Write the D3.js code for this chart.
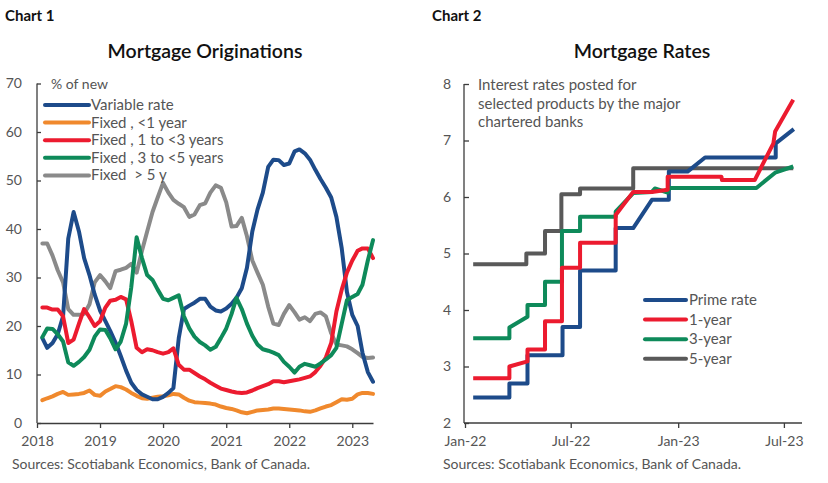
<!DOCTYPE html>
<html><head><meta charset="utf-8">
<script src="https://cdn.jsdelivr.net/npm/d3@7"></script>
<style>
body{margin:0;background:#fff;}
svg text{font-family:Lato,"Noto Sans",sans-serif;white-space:pre;}
</style>
</head><body><svg id="c" width="828" height="483"></svg>
<script>
// ---------- Chart 1 data: monthly, Feb 2018 .. May 2023 ----------
const firstMonth1 = "2018-02-01", lastMonth1 = "2023-05-01";
const variableRate = [17.5,15.5,16.5,18.3,22,38,43.5,39.5,34,30.5,26.5,23.2,21,19,16.6,13.8,10.8,8.3,6.8,5.9,5.4,4.9,4.9,5.4,6.2,7.2,17.5,23.5,24.2,24.8,25.6,25.6,24,23.2,23,23.6,24.6,25.8,27.8,32,39.5,44,47.5,52.8,54.3,54.2,53.2,53.5,56,56.4,55.6,54.3,52.2,50.3,48.5,46.5,42.5,36,27,22.3,20,14.5,10.5,8.5];
const fixedLt1 = [4.7,5.1,5.5,6.0,6.4,5.8,5.9,6.0,6.2,6.7,5.8,5.6,6.5,7.0,7.6,7.4,6.9,6.2,5.6,5.1,5.0,5.2,5.4,5.5,5.7,6.0,5.9,5.2,4.6,4.3,4.2,4.1,4.0,3.8,3.4,3.1,2.9,2.6,2.2,2.0,2.3,2.6,2.7,2.8,3.0,3.0,2.9,2.8,2.7,2.6,2.4,2.3,2.6,3.0,3.4,3.7,4.3,4.9,4.8,5.0,5.9,6.2,6.2,6.0];
const fixed1to3 = [23.8,23.8,23.4,23.4,22.0,16.5,17.2,20.5,23.5,21.8,20.0,21.0,23.8,25.2,25.4,26.0,25.5,21.0,15.5,14.6,15.2,15.0,14.6,14.3,14.6,15.4,12,11.0,11.0,10.3,9.6,9.0,8.3,7.7,7.1,6.8,6.5,6.3,6.2,6.3,6.7,7.2,7.6,8.0,8.6,8.6,8.4,8.6,8.8,9.0,9.3,9.6,10.5,11.8,13.5,16.5,23,27.5,31,33.5,35.5,36,36,34];
const fixed3to5 = [17.7,19.5,19.4,18.3,16.8,12.5,11.8,12.6,13.6,15.1,17.8,19.3,19.2,17.5,15.2,16.8,20.5,28,38.3,34,30.5,29.5,27.5,25.6,25.3,25.8,26.3,22,19.5,17.8,16.7,16.0,15.1,15.7,17.5,19.5,22.5,25.8,23.5,20.5,18,16.2,15.2,14.9,14.5,14,12.6,11.6,10.4,11.6,12.2,11.9,11.6,12.3,13.1,14,15.5,20.5,25.3,26.0,26.6,28.5,33.5,37.7];
const fixedGt5 = [37,37,34.5,31.5,29,23.5,22.3,22.3,22.5,24.5,29,30.5,29.2,27.8,31.3,31.6,32,32.8,31,35.5,39.5,43.5,46.5,49.5,47.5,46,45.2,44.5,42.5,43,44.9,45.3,47.5,49,48.5,45.5,40.5,40.6,42.3,38.5,33.5,31,28.5,24,20.5,20.2,22.5,24.3,22.8,21.3,21.8,21,22.5,22.8,22,18.5,16.2,16,15.8,15.2,14.4,13.6,13.4,13.5];
const series1Names = ["Variable rate","Fixed , <1 year","Fixed , 1 to <3 years","Fixed , 3 to <5 years","Fixed  > 5 y"];
const series1Colors = ["#1d4b8a","#f0892d","#ec1b2f","#0e8a5a","#8a8a8a"];
const yTicks1 = [0,10,20,30,40,50,60,70];
const xTickYears1 = ["2018","2019","2020","2021","2022","2023"];

// ---------- Chart 2 data: posted rates (change points) ----------
const primeRate = [["2022-01-15",2.45],["2022-03-18",2.45],["2022-03-18",2.70],["2022-04-18",2.70],["2022-04-18",3.20],["2022-06-17",3.20],["2022-06-17",3.70],["2022-07-17",3.70],["2022-07-17",4.70],["2022-09-16",4.70],["2022-09-16",5.45],["2022-10-16",5.45],["2022-11-17",5.95],["2022-12-16",5.95],["2022-12-16",6.45],["2023-01-17",6.45],["2023-02-16",6.70],["2023-06-17",6.70],["2023-06-17",6.95],["2023-07-18",7.20]];
const oneYear = [["2022-01-15",2.79],["2022-03-18",2.79],["2022-03-18",3.00],["2022-04-18",3.09],["2022-04-18",3.30],["2022-05-18",3.30],["2022-05-18",3.80],["2022-06-16",3.80],["2022-06-16",4.75],["2022-07-17",4.75],["2022-07-17",5.19],["2022-09-16",5.19],["2022-09-16",5.68],["2022-10-16",6.09],["2022-11-17",6.09],["2022-12-14",6.13],["2022-12-14",6.36],["2023-03-16",6.36],["2023-03-17",6.30],["2023-05-12",6.30],["2023-06-13",6.95],["2023-06-16",7.16],["2023-07-17",7.72]];
const threeYear = [["2022-01-15",3.50],["2022-03-18",3.50],["2022-03-18",3.69],["2022-04-18",3.88],["2022-04-18",4.09],["2022-05-18",4.09],["2022-05-18",4.50],["2022-06-16",4.50],["2022-06-16",5.40],["2022-07-17",5.40],["2022-07-17",5.65],["2022-09-16",5.65],["2022-09-16",5.74],["2022-10-16",6.07],["2022-11-17",6.09],["2022-11-22",6.15],["2022-12-14",6.08],["2022-12-17",6.16],["2023-05-15",6.16],["2023-06-16",6.43],["2023-07-17",6.54]];
const fiveYear = [["2022-01-15",4.81],["2022-04-16",4.81],["2022-04-16",5.00],["2022-05-18",5.00],["2022-05-18",5.40],["2022-06-15",5.40],["2022-06-15",6.05],["2022-07-17",6.05],["2022-07-17",6.15],["2022-10-16",6.15],["2022-10-16",6.51],["2023-07-17",6.51]];
const series2Names = ["Prime rate","1-year","3-year","5-year"];
const series2Colors = ["#1d4b8a","#ec1b2f","#0e8a5a","#595959"];
const yTicks2 = [2,3,4,5,6,7,8];
const xTicks2 = ["2022-01-01","2022-07-01","2023-01-01","2023-07-01"];

// ---------- Drawing ----------
const svg = d3.select("#c");
svg.append("rect").attr("width",828).attr("height",483).attr("fill","#fff");
const parse = d3.timeParse("%Y-%m-%d");
const axisColor = "#3c3c3c", labelColor = "#555";

function styleAxis(g){
  g.selectAll("path,line").attr("stroke",axisColor).attr("stroke-width",1.3);
  g.selectAll("text").attr("fill",labelColor).attr("font-size",14).attr("font-family","Lato");
}

// Headers
svg.append("text").attr("x",5).attr("y",21).attr("font-size",15).attr("font-weight",700).attr("fill","#111").text("Chart 1");
svg.append("text").attr("x",432).attr("y",21).attr("font-size",15).attr("font-weight",700).attr("fill","#111").text("Chart 2");
svg.append("text").attr("x",205).attr("y",58).attr("text-anchor","middle").attr("font-size",19.5).attr("font-weight",600).attr("fill","#111").text("Mortgage Originations");
svg.append("text").attr("x",642).attr("y",58).attr("text-anchor","middle").attr("font-size",19.5).attr("font-weight",600).attr("fill","#111").text("Mortgage Rates");

// Chart 1
const months1 = d3.timeMonth.range(parse(firstMonth1), d3.timeMonth.offset(parse(lastMonth1),1));
const x1 = d3.scaleTime().domain([new Date(2018,0,1), new Date(2023,4,1)]).range([37,373]);
const y1 = d3.scaleLinear().domain([0,70]).range([423,83.5]);
const g1 = svg.append("g");
g1.append("g").attr("transform","translate(37,0)")
  .call(d3.axisLeft(y1).tickValues(yTicks1).tickSizeInner(-4).tickSizeOuter(0).tickPadding(15).tickFormat(d3.format("d")))
  .call(styleAxis).call(g=>g.select(".domain").attr("d","M0,423V83.5"));
g1.append("g").attr("transform","translate(0,423)")
  .call(d3.axisBottom(x1).tickValues(xTickYears1.map(s=>new Date(+s,0,1))).tickSizeInner(5).tickSizeOuter(0).tickPadding(8).tickFormat(d3.timeFormat("%Y")))
  .call(styleAxis);
const data1 = [variableRate, fixedLt1, fixed1to3, fixed3to5, fixedGt5];
const line1 = d3.line().x((d,i)=>x1(months1[i])).y(d=>y1(d)).curve(d3.curveLinear);
[4,1,0,2,3].forEach(k=>{
  g1.append("path").datum(data1[k]).attr("d",line1).attr("fill","none")
    .attr("stroke",series1Colors[k]).attr("stroke-width",4).attr("stroke-linejoin","round").attr("stroke-linecap","round");
});
g1.append("text").attr("x",51).attr("y",89).attr("font-size",14).attr("fill",labelColor).text("% of new");
series1Names.forEach((n,k)=>{
  const yy = 105 + k*17.6;
  g1.append("line").attr("x1",45).attr("x2",89).attr("y1",yy).attr("y2",yy).attr("stroke",series1Colors[k]).attr("stroke-width",4).attr("stroke-linecap","round");
  g1.append("text").attr("x",91).attr("y",yy+5).attr("font-size",15).attr("fill",labelColor).text(n);
});
svg.append("text").attr("x",12).attr("y",469).attr("font-size",14).attr("fill",labelColor).text("Sources: Scotiabank Economics, Bank of Canada.");

// Chart 2
const x2 = d3.scaleTime().domain([parse("2022-01-01"), parse("2023-08-01")]).range([465,802]);
const y2 = d3.scaleLinear().domain([2,8]).range([423,84]);
const g2 = svg.append("g");
g2.append("g").attr("transform","translate(464,0)")
  .call(d3.axisLeft(y2).tickValues(yTicks2).tickSizeInner(-5).tickSizeOuter(0).tickPadding(13).tickFormat(d3.format("d")))
  .call(styleAxis).call(g=>g.select(".domain").attr("d","M0,423V84"));
g2.append("g").attr("transform","translate(0,423)")
  .call(d3.axisBottom(x2).tickValues(xTicks2.map(parse)).tickSizeInner(5).tickSizeOuter(0).tickPadding(8).tickFormat(d3.timeFormat("%b-%y")))
  .call(styleAxis).call(g=>g.select(".domain").attr("d","M464,0H802"));
const data2 = [primeRate, oneYear, threeYear, fiveYear];
const line2 = d3.line().x(d=>x2(parse(d[0]))).y(d=>y2(d[1]));
[3,0,2,1].forEach(k=>{
  g2.append("path").datum(data2[k]).attr("d",line2).attr("fill","none")
    .attr("stroke",series2Colors[k]).attr("stroke-width",4).attr("stroke-linejoin","round");
});
["Interest rates posted for","selected products by the major","chartered banks"].forEach((t,i)=>{
  g2.append("text").attr("x",478).attr("y",90+i*18.7).attr("font-size",15).attr("fill",labelColor).text(t);
});
series2Names.forEach((n,k)=>{
  const yy = 300 + k*19.6;
  g2.append("line").attr("x1",645).attr("x2",686).attr("y1",yy).attr("y2",yy).attr("stroke",series2Colors[k]).attr("stroke-width",4).attr("stroke-linecap","round");
  g2.append("text").attr("x",689).attr("y",yy+5).attr("font-size",15).attr("fill",labelColor).text(n);
});
svg.append("text").attr("x",443).attr("y",469).attr("font-size",14).attr("fill",labelColor).text("Sources: Scotiabank Economics, Bank of Canada.");
</script>
</body></html>
